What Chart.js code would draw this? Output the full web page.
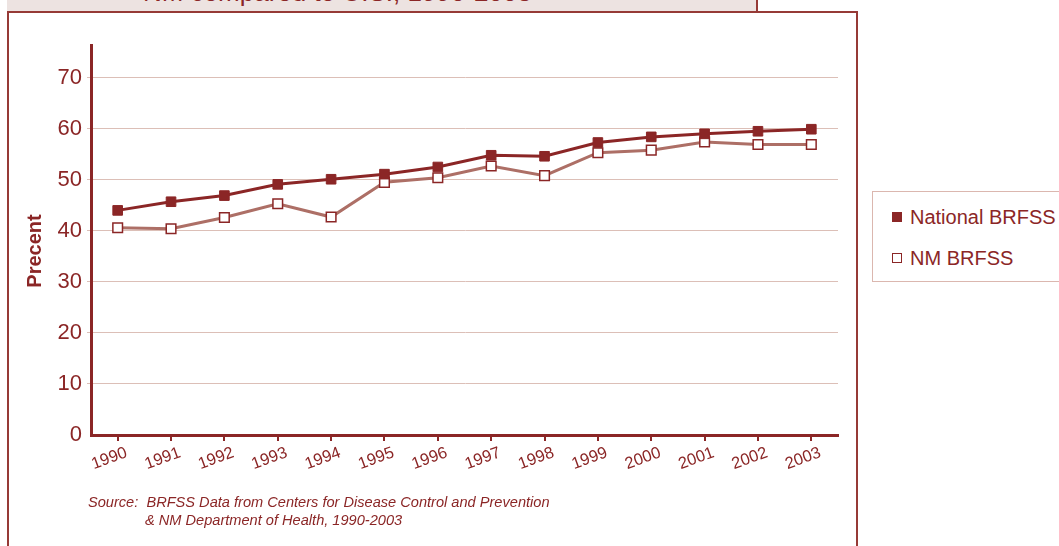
<!DOCTYPE html>
<html>
<head>
<meta charset="utf-8">
<script src="https://cdn.jsdelivr.net/npm/chart.js@4/dist/chart.umd.min.js"></script>
<style>
  html, body { margin:0; padding:0; background:#fff; }
  body { width:1059px; height:546px; overflow:hidden; position:relative; font-family:"Liberation Sans", Arial, sans-serif; color:#8b2626; }
  #frame { position:absolute; left:7px; top:11px; width:851px; height:560px; border:2px solid #963a36; box-sizing:border-box; }
  #titlebox { position:absolute; left:7px; top:-2px; width:751px; height:15px; background:#ede3e1; border-right:2px solid #963a36; border-bottom:2px solid #963a36; box-sizing:border-box; overflow:hidden; }
  #titletext { position:absolute; left:136px; top:-19.5px; font-size:26px; line-height:26px; white-space:nowrap; color:#8b2626; }
  #wrap { position:absolute; left:0; top:0; width:860px; height:546px; }
  #ytitle { position:absolute; left:-16.5px; top:241px; width:100px; height:20px; text-align:center; font-size:20px; line-height:20px; font-weight:bold; color:#8b2626; transform:rotate(-90deg); transform-origin:50% 50%; white-space:nowrap; }
  #legend { position:absolute; left:872px; top:191px; width:220px; height:91px; border:1px solid #dbb7af; box-sizing:border-box; }
  .li { position:absolute; left:37px; font-size:20px; line-height:20px; white-space:nowrap; color:#8b2626; }
  .sw { position:absolute; left:-18px; top:5px; width:10px; height:10px; box-sizing:border-box; }
  #source { position:absolute; left:88px; top:493px; font-size:14.6px; line-height:18px; font-style:italic; color:#8b2626; white-space:nowrap; }
</style>
</head>
<body>
<div id="frame"></div>
<div id="titlebox"><div id="titletext">NM compared to U.S., 1990-2003</div></div>
<div id="wrap"><canvas id="c"></canvas></div>
<div id="ytitle">Precent</div>
<div id="legend"></div>
<div id="source">Source:&nbsp; BRFSS Data from Centers for Disease Control and Prevention<br><span style="padding-left:57px">&amp; NM Department of Health, 1990-2003</span></div>
<script>
const years = ["1990","1991","1992","1993","1994","1995","1996","1997","1998","1999","2000","2001","2002","2003"];
const nationalBRFSS = [44.0, 45.7, 46.9, 49.1, 50.1, 51.1, 52.5, 54.8, 54.6, 57.3, 58.4, 59.0, 59.5, 59.9];
const nmBRFSS = [40.6, 40.4, 42.6, 45.3, 42.7, 49.5, 50.4, 52.7, 50.8, 55.3, 55.8, 57.4, 56.9, 56.9];
const yTicks = [0, 10, 20, 30, 40, 50, 60, 70];
const seriesNames = ["National BRFSS", "NM BRFSS"];

const DARK = '#8b2626';
const NMLINE = '#ad6f66';
const GRID = '#dcbfb7';

const c = document.getElementById('c');
c.width = 860; c.height = 546;
c.style.width = '860px'; c.style.height = '546px';

new Chart(c, {
  type: 'line',
  data: {
    labels: years,
    datasets: [
      { label: seriesNames[0], data: nationalBRFSS, borderColor: DARK, borderWidth: 3,
        pointStyle: 'rect', pointRadius: 6.8, pointBackgroundColor: DARK, pointBorderColor: DARK, pointBorderWidth: 1, tension: 0 },
      { label: seriesNames[1], data: nmBRFSS, borderColor: NMLINE, borderWidth: 3,
        pointStyle: 'rect', pointRadius: 6.8, pointBackgroundColor: '#ffffff', pointBorderColor: DARK, pointBorderWidth: 1.5, tension: 0 }
    ]
  },
  options: {
    responsive: false,
    animation: false,
    devicePixelRatio: 1,
    layout: { padding: { left: 20, top: 45, right: 22, bottom: 0 } },
    plugins: { legend: { display: false }, tooltip: { enabled: false } },
    scales: {
      x: {
        type: 'category',
        offset: true,
        afterFit: s => { s.height = 111; },
        grid: { display: true, drawOnChartArea: false, drawTicks: true, tickLength: 6, color: DARK, lineWidth: 2, offset: false },
        border: { display: true, color: DARK, width: 3 },
        ticks: { color: DARK, font: { family: "'Liberation Sans', Arial, sans-serif", size: 16.5 },
                 minRotation: 20, maxRotation: 20, autoSkip: false, labelOffset: 9, padding: 2 }
      },
      y: {
        min: 0, max: 76.4,
        afterFit: s => { s.width = 71; },
        afterBuildTicks: s => { s.ticks = yTicks.map(v => ({ value: v })); },
        grid: { color: ctx => (ctx.tick && ctx.tick.value === 0) ? 'rgba(0,0,0,0)' : GRID, lineWidth: 1, tickLength: 4 },
        border: { display: true, color: DARK, width: 3 },
        ticks: { color: DARK, font: { family: "'Liberation Sans', Arial, sans-serif", size: 22 }, padding: 5 }
      }
    }
  }
});

const lg = document.getElementById('legend');
seriesNames.forEach((name, i) => {
  const d = document.createElement('div');
  d.className = 'li';
  d.style.top = (i === 0 ? 15 : 56) + 'px';
  const sw = document.createElement('div');
  sw.className = 'sw';
  if (i === 0) { sw.style.background = DARK; }
  else { sw.style.background = '#fff'; sw.style.border = '1.5px solid ' + DARK; }
  d.appendChild(sw);
  d.appendChild(document.createTextNode(name));
  lg.appendChild(d);
});
</script>
</body>
</html>
